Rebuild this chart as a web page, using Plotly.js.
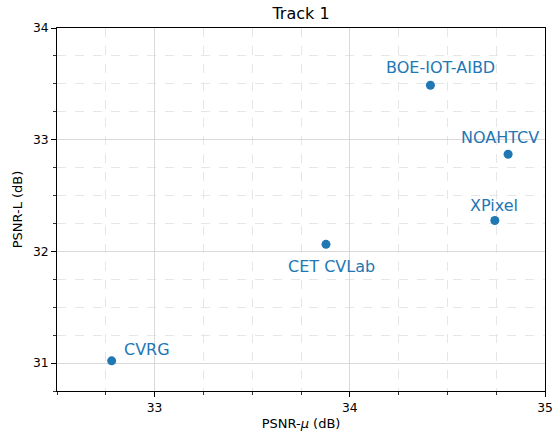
<!DOCTYPE html>
<html>
<head>
<meta charset="utf-8">
<script src="https://cdn.plot.ly/plotly-3.0.1.min.js"></script>
<style>html,body{margin:0;padding:0;background:#fff;}#chart{width:557px;height:436px;}</style>
</head>
<body>
<div id="chart"></div>
<script>
const teams = ['CVRG', 'CET CVLab', 'BOE-IOT-AIBD', 'NOAHTCV', 'XPixel'];
const psnrMu = [32.78, 33.878, 34.413, 34.811, 34.743];
const psnrL = [31.02, 32.063, 33.487, 32.87, 32.277];
const xTicks = [33, 34, 35];
const yTicks = [31, 32, 33, 34];
// label offsets in px (dx, dy) and anchor
const labelShift = [[10.5, 11.7, 'left'], [5.5, -22, 'center'], [10, 17.5, 'center'], [-8, 16.3, 'center'], [-0.5, 15.3, 'center']];

const blue = '#1f77b4';
const font = 'DejaVu Sans, sans-serif';

const annotations = teams.map((t, i) => ({
  x: psnrMu[i], y: psnrL[i], xref: 'x', yref: 'y',
  text: t, showarrow: false,
  xshift: labelShift[i][0], yshift: labelShift[i][1],
  xanchor: labelShift[i][2], yanchor: 'middle',
  font: {family: font, size: 16, color: blue}
}));

const axisCommon = {
  showline: true, linecolor: '#000', linewidth: 1, mirror: true,
  ticks: 'outside', ticklen: 5, tickwidth: 1, tickcolor: '#000',
  showgrid: true, gridcolor: '#d9d9d9', gridwidth: 1,
  zeroline: false,
  tickfont: {family: font, size: 12.3, color: '#000'},
  minor: {dtick: 0.25, ticks: 'outside', ticklen: 3, tickwidth: 0.8, tickcolor: '#000',
          showgrid: true, gridcolor: '#e6e6e6', gridwidth: 1, griddash: 'dash'}
};

const trace = {
  x: psnrMu, y: psnrL, mode: 'markers', type: 'scatter',
  marker: {color: blue, size: 9},
  hoverinfo: 'skip'
};

const layout = {
  width: 557, height: 436,
  margin: {l: 57, r: 12, t: 27.5, b: 45},
  paper_bgcolor: '#fff', plot_bgcolor: '#fff',
  showlegend: false,
  title: {text: 'Track 1', font: {family: font, size: 16, color: '#000'},
          x: 0.5 + (57 - 12) / 2 / 557, xanchor: 'center', y: 1 - 13.5 / 436, yanchor: 'middle', yref: 'container'},
  xaxis: Object.assign({}, axisCommon, {
    range: [32.5, 35], tickvals: xTicks, ticktext: xTicks.map(String),
    title: {text: 'PSNR-<i>μ</i> (dB)', font: {family: font, size: 13, color: '#000'}, standoff: 5}
  }),
  yaxis: Object.assign({}, axisCommon, {
    range: [30.75, 34], tickvals: yTicks, ticktext: yTicks.map(String),
    title: {text: 'PSNR-L (dB)', font: {family: font, size: 13, color: '#000'}, standoff: 7}
  }),
  annotations: annotations
};

Plotly.newPlot('chart', [trace], layout, {staticPlot: true, displayModeBar: false});
</script>
</body>
</html>
